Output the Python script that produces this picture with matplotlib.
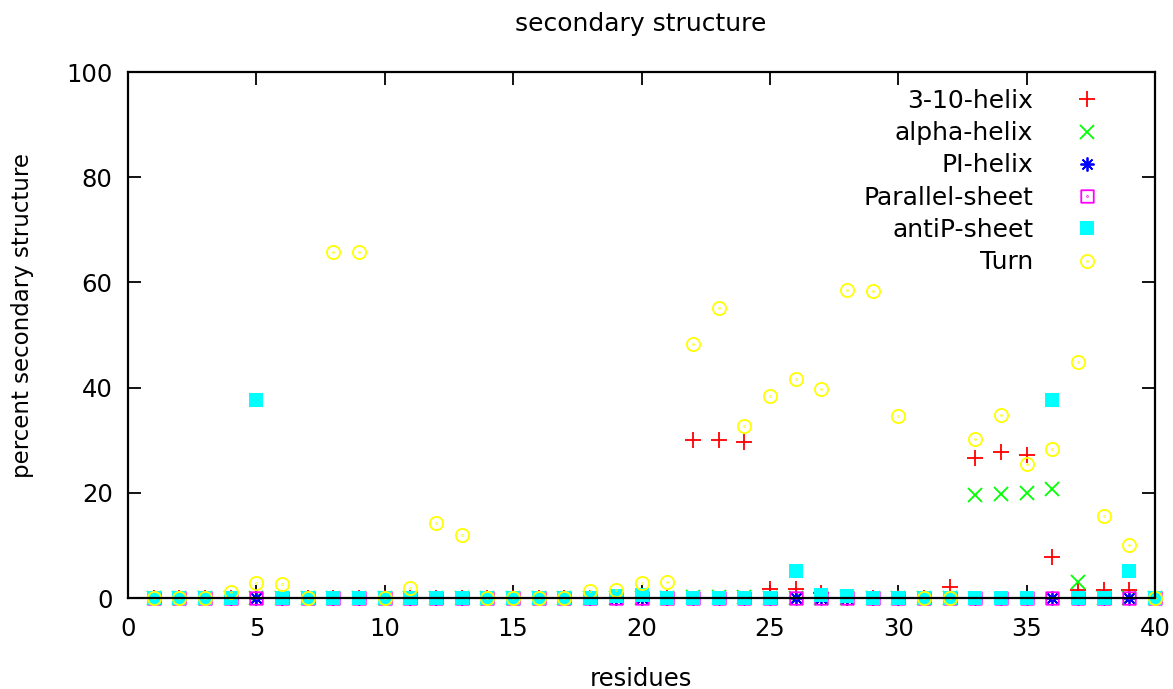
import numpy as np
import matplotlib
matplotlib.use("Agg")
import matplotlib.pyplot as plt
from matplotlib.path import Path

# --- data (percent per residue) ---
residues = np.arange(1, 41)

helix_310 = [0, 0, 0, 0, 0, 0, 0, 0, 0, 0,
             0, 0, 0, 0, 0, 0, 0, 0, 0, 0,
             0, 30.1, 30.0, 29.7, 1.8, 1.8, 1.0, 0, 0, 0,
             0, 2.1, 26.6, 27.7, 27.2, 7.8, 1.5, 1.6, 1.5, 0]
alpha_helix = [0, 0, 0, 0, 0, 0, 0, 0, 0, 0,
               0, 0, 0, 0, 0, 0, 0, 0, 0, 0,
               0, 0.2, 0.2, 0.2, 0, 0, 0, 0, 0, 0,
               0, 0, 19.5, 19.8, 20.0, 20.8, 3.1, 0, 0, 0]
pi_helix = [0] * 40
parallel_sheet = [0] * 40
antip_sheet = [0, 0, 0, 0, 37.6, 0, 0, 0, 0, 0,
               0, 0, 0, 0, 0, 0, 0, 0, 0.4, 0.5,
               0, 0, 0, 0, 0, 5.2, 0.5, 0.3, 0, 0,
               0, 0, 0, 0, 0, 37.6, 0, 0, 5.1, 0]
turn = [0, 0, 0, 1.2, 2.9, 2.7, 0, 65.8, 65.8, 0,
        1.9, 14.2, 12.0, 0, 0, 0, 0, 1.4, 1.5, 2.8,
        3.1, 48.3, 55.1, 32.7, 38.4, 41.7, 39.7, 58.5, 58.3, 34.6,
        0, 0, 30.3, 34.8, 25.5, 28.3, 44.9, 15.6, 10.1, 0]

# gnuplot-like point types: open circle / open square with a centre dot
dot = Path.circle((0, 0), 0.06)
circle_dot = Path.make_compound_path(Path.unit_circle(), dot)
square = Path([(-1, -1), (1, -1), (1, 1), (-1, 1), (-1, -1)],
              [Path.MOVETO, Path.LINETO, Path.LINETO, Path.LINETO, Path.CLOSEPOLY])
square_dot = Path.make_compound_path(square, dot)

series = [
    ("3-10-helix", helix_310, dict(marker="+", color="#ff0000", ms=11)),
    ("alpha-helix", alpha_helix, dict(marker="x", color="#00ff00", ms=9.5)),
    ("PI-helix", pi_helix, dict(marker=(8, 2, 0), color="#0000ff", ms=10)),
    ("Parallel-sheet", parallel_sheet, dict(marker=square_dot, color="#ff00ff", ms=9,
                                            mfc="none")),
    ("antiP-sheet", antip_sheet, dict(marker="s", color="#00ffff", ms=9.5, mew=0)),
    ("Turn", turn, dict(marker=circle_dot, color="#ffff00", ms=9.5, mfc="none")),
]

plt.rcParams.update({"font.family": "DejaVu Sans", "font.size": 18})

fig = plt.figure(figsize=(11.73, 6.89), dpi=100, facecolor="white")
ax = fig.add_axes([128 / 1173, 91 / 689, 1027 / 1173, 526 / 689])

for label, vals, style in series:
    mew = style.pop("mew", 1.3)
    ax.plot(residues, vals, linestyle="none", label=label, mew=mew,
            clip_on=False, **style)

ax.set_xlim(0, 40)
ax.set_ylim(0, 100)
ax.set_xticks(np.arange(0, 41, 5))
ax.set_yticks(np.arange(0, 101, 20))
ax.tick_params(direction="in", length=9.5, width=1.3, top=True, right=True,
               labelsize=17.5, colors="black")
ax.tick_params(axis="y", pad=11)
ax.tick_params(axis="x", pad=14)
for sp in ax.spines.values():
    sp.set_linewidth(1.6)
    sp.set_color("black")

fig.text(641 / 1173, 1 - 24 / 689, "secondary structure", ha="center", va="center",
         fontsize=18)
fig.text(641 / 1173, 1 - 679 / 689, "residues", ha="center", va="center", fontsize=17.5)
fig.text(23 / 1173, 1 - 315 / 689, "percent secondary structure", ha="center",
         va="center", rotation=90, fontsize=16.5)

ax.legend(loc="upper right", bbox_to_anchor=(1112 / 1173, 1 - 89 / 689),
          bbox_transform=fig.transFigure, frameon=False, markerfirst=False,
          numpoints=1, borderpad=0, borderaxespad=0, handlelength=2.0,
          handletextpad=1.15, labelspacing=0.33, fontsize=18)

fig.savefig("out.png", dpi=100, facecolor="white")
